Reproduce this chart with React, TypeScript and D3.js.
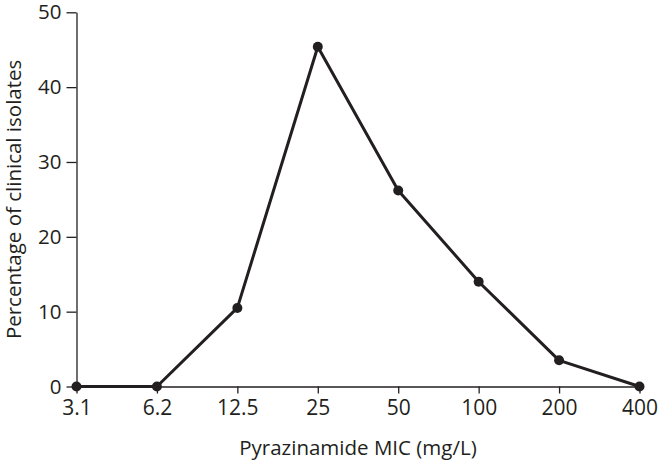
import React, { useEffect, useRef } from "react";
import * as d3 from "d3";

const categories = ["3.1", "6.2", "12.5", "25", "50", "100", "200", "400"];
const percentages = [0, 0, 10.5, 45.4, 26.2, 14.0, 3.5, 0];
const yTicks = [0, 10, 20, 30, 40, 50];
const xTitle = "Pyrazinamide MIC (mg/L)";
const yTitle = "Percentage of clinical isolates";

const W = 658;
const H = 465;
const FONT = "'Open Sans', sans-serif";

export default function App() {
  const ref = useRef<SVGSVGElement>(null);
  useEffect(() => {
    const svg = d3.select(ref.current);
    svg.selectAll("*").remove();
    const x = d3.scalePoint<string>().domain(categories).range([76.5, 639.5]);
    const y = d3.scaleLinear().domain([0, 50]).range([386.5, 12.3]);
    const ink = "#231f20";

    const xAxis = svg.append("g").attr("transform", `translate(0,${y(0)})`)
      .call(d3.axisBottom(x).tickSize(7).tickPadding(7).tickSizeOuter(0));
    xAxis.select(".domain").attr("stroke", ink).attr("stroke-width", 1.3);
    xAxis.selectAll(".tick line").attr("stroke", ink).attr("stroke-width", 1.3);
    xAxis.selectAll(".tick text").attr("fill", ink).attr("font-size", 21).attr("font-family", FONT);

    const yAxis = svg.append("g").attr("transform", `translate(${x("3.1")},0)`)
      .call(d3.axisLeft(y).tickValues(yTicks).tickSize(10).tickPadding(5).tickSizeOuter(0));
    yAxis.select(".domain").attr("stroke", ink).attr("stroke-width", 1.3);
    yAxis.selectAll(".tick line").attr("stroke", ink).attr("stroke-width", 1.3);
    yAxis.selectAll(".tick text").attr("fill", ink).attr("font-size", 20.5).attr("font-family", FONT);

    const line = d3.line<number>().x((_, i) => x(categories[i])!).y((d) => y(d));
    svg.append("path").datum(percentages).attr("d", line).attr("fill", "none")
      .attr("stroke", ink).attr("stroke-width", 3).attr("stroke-linejoin", "round");

    svg.selectAll("circle.pt").data(percentages).enter().append("circle")
      .attr("class", "pt").attr("cx", (_, i) => x(categories[i])!).attr("cy", (d) => y(d))
      .attr("r", 5).attr("fill", ink);

    svg.append("text").attr("x", (76.5 + 639.5) / 2).attr("y", 455).attr("text-anchor", "middle")
      .attr("font-family", FONT).attr("font-size", 20.5).attr("fill", ink).text(xTitle);

    svg.append("text").attr("transform", `translate(20.5,${(12.3 + 386.5) / 2}) rotate(-90)`)
      .attr("text-anchor", "middle").attr("font-family", FONT).attr("font-size", 20.5)
      .attr("fill", ink).text(yTitle);
  }, []);
  return (
    <svg ref={ref} width={W} height={H} style={{ position: "absolute", left: 0, top: 0, background: "#fff" }} />
  );
}
